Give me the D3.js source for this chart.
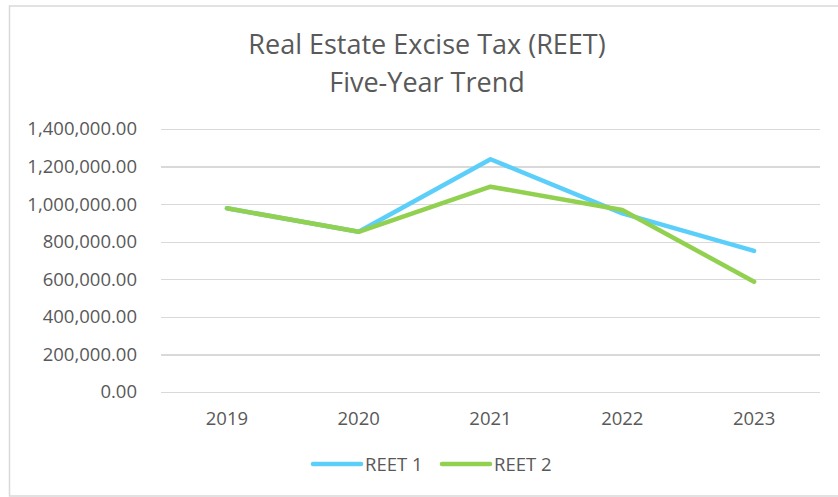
<!DOCTYPE html>
<html>
<head>
    <meta charset="utf-8">
    <script src="https://cdnjs.cloudflare.com/ajax/libs/d3/7.8.5/d3.min.js"></script>
    <style>
        body {
            margin: 0;
            background-color: #fff;
        }
        svg text {
            font-family: 'Open Sans', sans-serif;
            fill: #595959;
        }
        .grid line {
            stroke: #d9d9d9;
            stroke-width: 1.3px;
            shape-rendering: crispEdges;
        }
    </style>
</head>
<body>
    <svg width="838" height="497"></svg>
    <script>
        // data
        var years = ["2019", "2020", "2021", "2022", "2023"];
        var reet1 = [978000, 853000, 1239000, 951000, 751000];
        var reet2 = [978000, 853000, 1093000, 969000, 587000];
        var seriesNames = ["REET 1", "REET 2"];
        var seriesColors = ["#5bcffa", "#92d050"];
        var yTicks = [0, 200000, 400000, 600000, 800000, 1000000, 1200000, 1400000];

        var svg = d3.select("svg"),
            margin = {top: 129, right: 18, bottom: 105, left: 161},
            width = svg.attr("width") - margin.left - margin.right,
            height = svg.attr("height") - margin.top - margin.bottom;

        // chart area border
        svg.append("rect")
            .attr("x", 9.5)
            .attr("y", 6)
            .attr("width", 840)
            .attr("height", 490)
            .attr("fill", "none")
            .attr("stroke", "#d9d9d9")
            .attr("stroke-width", 1.5);

        var g = svg.append("g").attr("transform", "translate(" + margin.left + "," + margin.top + ")");

        var x = d3.scaleBand().domain(years).range([0, width]).padding(0),
            y = d3.scaleLinear().domain([0, 1400000]).range([height, 0]);

        // gridlines
        g.append("g")
            .attr("class", "grid")
            .call(d3.axisLeft(y).tickValues(yTicks).tickSize(-width).tickFormat(""))
            .call(function(a) { a.select(".domain").remove(); });

        // y labels
        var fmt = d3.format(",.2f");
        g.append("g")
            .selectAll("text")
            .data(yTicks)
            .enter()
            .append("text")
            .attr("x", -24)
            .attr("y", function(d) { return y(d); })
            .attr("dy", "0.35em")
            .attr("text-anchor", "end")
            .style("font-size", "18.5px")
            .text(function(d) { return fmt(d); });

        // x labels
        g.append("g")
            .selectAll("text")
            .data(years)
            .enter()
            .append("text")
            .attr("x", function(d) { return x(d) + x.bandwidth() / 2; })
            .attr("y", height + 33)
            .attr("text-anchor", "middle")
            .style("font-size", "18.5px")
            .text(function(d) { return d; });

        // lines
        var line = d3.line()
            .x(function(d, i) { return x(years[i]) + x.bandwidth() / 2; })
            .y(function(d) { return y(d); });

        [reet1, reet2].forEach(function(s, i) {
            g.append("path")
                .datum(s)
                .attr("fill", "none")
                .attr("stroke", seriesColors[i])
                .attr("stroke-width", 4.5)
                .attr("stroke-linecap", "round")
                .attr("stroke-linejoin", "round")
                .attr("d", line);
        });

        // title
        var title = svg.append("g").attr("class", "title");
        title.append("text")
            .attr("x", 427)
            .attr("y", 54)
            .attr("text-anchor", "middle")
            .style("font-size", "27px")
            .text("Real Estate Excise Tax (REET)");
        title.append("text")
            .attr("x", 427)
            .attr("y", 92)
            .attr("text-anchor", "middle")
            .style("font-size", "27px")
            .text("Five-Year Trend");

        // legend
        var legend = svg.append("g").attr("class", "legend");
        var legendX = [313, 442];
        seriesNames.forEach(function(name, i) {
            legend.append("line")
                .attr("x1", legendX[i])
                .attr("x2", legendX[i] + 48)
                .attr("y1", 464)
                .attr("y2", 464)
                .attr("stroke", seriesColors[i])
                .attr("stroke-width", 4.5)
                .attr("stroke-linecap", "round");
            legend.append("text")
                .attr("x", legendX[i] + 52)
                .attr("y", 471)
                .style("font-size", "18.5px")
                .text(name);
        });
    </script>
</body>
</html>
